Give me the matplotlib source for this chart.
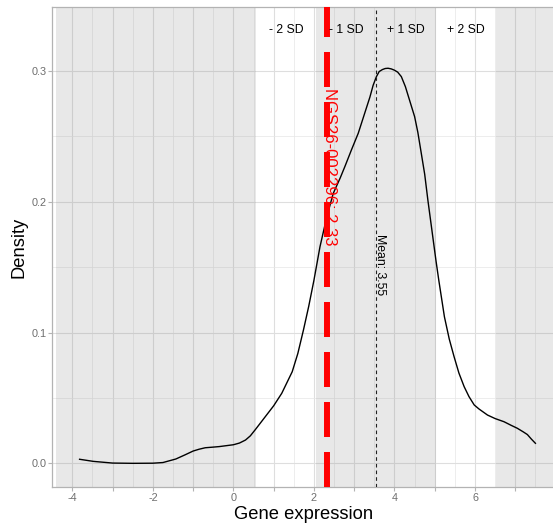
import numpy as np
import matplotlib
matplotlib.use("Agg")
from matplotlib import pyplot as plt

# density curve of gene expression
expr_x = [-3.82, -3.48, -3.0, -2.5, -2.0, -1.75, -1.43, -1.2, -1.0, -0.85,
          -0.7, -0.5, -0.35, 0.0, 0.15, 0.3, 0.42, 0.55, 0.76, 1.0,
          1.2, 1.46, 1.6, 1.74, 1.87, 2.0, 2.15, 2.32, 2.48, 2.65,
          2.77, 2.93, 3.1, 3.26, 3.39, 3.47, 3.55, 3.62, 3.7, 3.77,
          3.84, 3.92, 4.0, 4.08, 4.17, 4.27, 4.37, 4.5, 4.58, 4.66,
          4.75, 4.83, 4.93, 5.03, 5.1, 5.24, 5.36, 5.48, 5.6, 5.73,
          5.85, 5.98, 6.1, 6.31, 6.5, 6.72, 6.9, 7.05, 7.2, 7.3,
          7.4, 7.5]
density_y = [0.0031, 0.0015, 0.0002, 0.0, 0.0001, 0.0006, 0.0033, 0.0065, 0.0094, 0.0108,
             0.0119, 0.0124, 0.0128, 0.0142, 0.0155, 0.0178, 0.021, 0.026, 0.0344, 0.044,
             0.0535, 0.070, 0.084, 0.102, 0.12, 0.140, 0.1656, 0.1885, 0.2064, 0.218,
             0.227, 0.2395, 0.2523, 0.2676, 0.280, 0.289, 0.2955, 0.2995, 0.301, 0.3018,
             0.302, 0.3015, 0.3005, 0.299, 0.2956, 0.288, 0.278, 0.265, 0.253, 0.238,
             0.221, 0.201, 0.178, 0.155, 0.140, 0.112, 0.095, 0.0815, 0.069, 0.0586,
             0.051, 0.0446, 0.0415, 0.0369, 0.0342, 0.0318, 0.029, 0.0268, 0.024, 0.022,
             0.0185, 0.0153]

sample_id = "NGS26-002296"
sample_value = 2.33
mean_expr = 3.55
sd_expr = 1.49
sd_labels = ["- 2 SD", "- 1 SD", "+ 1 SD", "+ 2 SD"]
sd_offsets = [-1.5, -0.5, 0.5, 1.5]

x_ticks = list(range(-4, 8))
x_ticklabels = [str(t) if t % 2 == 0 else "" for t in x_ticks]
y_ticks = [0.0, 0.1, 0.2, 0.3]
y_ticklabels = ["0.0", "0.1", "0.2", "0.3"]

plt.rcParams['font.family'] = ['Liberation Sans', 'DejaVu Sans']
plt.rcParams['lines.scale_dashes'] = False

fig = plt.figure(figsize=(5.53, 5.24), dpi=100)
ax = fig.add_axes([0.0944, 0.0706, 0.9146, 0.9155])
xmin, xmax = -4.41, 8.06
ymin, ymax = -0.0181, 0.3486
ax.set_xlim(xmin, xmax)
ax.set_ylim(ymin, ymax)

# grid like theme_light
ax.set_xticks(x_ticks)
ax.set_xticklabels(x_ticklabels)
ax.set_xticks(np.arange(-4.5, 8.5, 1.0), minor=True)
ax.set_yticks(y_ticks)
ax.set_yticklabels(y_ticklabels)
ax.set_yticks([0.05, 0.15, 0.25], minor=True)
ax.grid(which='major', color='#DEDEDE', lw=0.8, zorder=0)
ax.grid(which='minor', color='#E6E6E6', lw=0.5, zorder=0)
ax.set_axisbelow(True)
ax.tick_params(which='major', length=2.7, width=0.8, color='#B3B3B3',
               labelsize=7.8, labelcolor='#6E6E6E', pad=1.5)
ax.tick_params(which='minor', length=0)
for s in ax.spines.values():
    s.set_color('#B3B3B3')
    s.set_linewidth(0.9)

# shaded SD bands
band_kw = dict(color='#808080', alpha=0.18, lw=0, zorder=1)
ax.axvspan(xmin, mean_expr - 2 * sd_expr, **band_kw)
ax.axvspan(mean_expr - sd_expr, mean_expr + sd_expr, **band_kw)
ax.axvspan(mean_expr + 2 * sd_expr, xmax, **band_kw)

for lab, off in zip(sd_labels, sd_offsets):
    ax.text(mean_expr + off * sd_expr, 0.331, lab, ha='center', va='center',
            fontsize=8.8, color='black', zorder=5)

ax.plot(expr_x, density_y, color='black', lw=1.0, zorder=3)

# mean line
ax.plot([mean_expr, mean_expr], [ymin, ymax], color='#222222', lw=0.8,
        dashes=(2.6, 2.2), zorder=4)
ax.text(mean_expr + 0.1, 0.152, f"Mean: {mean_expr}", rotation=-90,
        ha='center', va='center', fontsize=8.8, color='black', zorder=5)

# sample line
ax.plot([sample_value, sample_value], [ymin, ymax], color='red', lw=4.3,
        dashes=(25.2, 10.8), solid_capstyle='butt', dash_capstyle='butt', zorder=4)
ax.text(sample_value + 0.06, 0.227, f"{sample_id}: {sample_value}", rotation=-90,
        ha='center', va='center', fontsize=12, color='red', zorder=5)

fig.text(304 / 553, 1 - 519 / 524, "Gene expression", ha='center', va='baseline',
         fontsize=13.2, color='black')
fig.text(18.6 / 553, 1 - 247 / 524, "Density", rotation=90, ha='center', va='center',
         fontsize=13.2, color='black')

fig.savefig("out.png", dpi=100)
